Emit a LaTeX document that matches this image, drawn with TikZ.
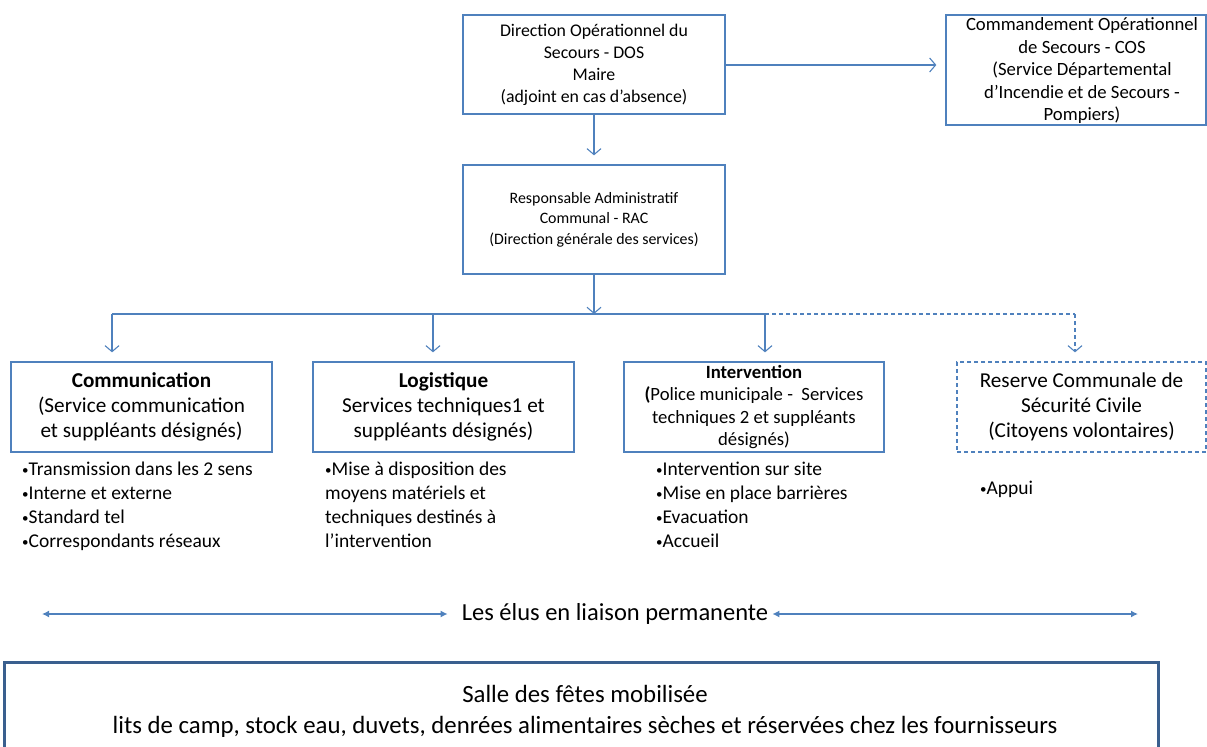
\documentclass[tikz,border=0pt]{standalone}
\usepackage{fontspec}
\setmainfont{Carlito}
\usetikzlibrary{arrows.meta}
\definecolor{bl}{HTML}{4F81BD}
\definecolor{dbl}{HTML}{3A5F8E}
\newcommand\bul{\raisebox{1.5bp}{\fontsize{13bp}{13bp}\selectfont •}}
\begin{document}
\begin{tikzpicture}[x=1bp,y=-1bp,
  box/.style={draw=bl, line width=1.3bp, align=center, inner sep=0pt, text=black},
  dbox/.style={box, dash pattern=on 4bp off 3bp},
  conn/.style={draw=bl, line width=1.2bp, -{Straight Barb[length=6bp,width=14bp,line width=1.1bp]}},
  dconn/.style={conn, dash pattern=on 4bp off 3bp},
  busline/.style={draw=bl, line width=1.2bp},
  both/.style={draw=bl, line width=1.6bp, {Latex[length=7bp,width=7bp]}-{Latex[length=7bp,width=7bp]}},
  bullets/.style={align=left, inner sep=0pt, anchor=north west, font=\fontsize{19.5bp}{24bp}\selectfont},
  fA/.style={font=\fontsize{17.8bp}{22bp}\selectfont},
  fB/.style={font=\fontsize{18.7bp}{22.5bp}\selectfont},
  fC/.style={font=\fontsize{15.9bp}{20.5bp}\selectfont},
  fD/.style={font=\fontsize{21.2bp}{25bp}\selectfont},
  fE/.style={font=\fontsize{18.7bp}{22.5bp}\selectfont},
  fF/.style={font=\fontsize{24.5bp}{31bp}\selectfont},
  fG/.style={font=\fontsize{24.8bp}{31bp}\selectfont}]
\useasboundingbox (0,0) rectangle (1207,747);

\node[box, fA, minimum width=262bp, minimum height=99bp] (dos) at (594,64.5)
  {Direction Opérationnel du\\Secours - DOS\\Maire\\(adjoint en cas d’absence)};
\node[box, minimum width=260bp, minimum height=110bp] (cos) at (1076,70) {};
\node[fB, align=center, inner sep=0pt] (costxt) at (1082,71)
  {Commandement Opérationnel\\de Secours - COS\\(Service Départemental\\d’Incendie et de Secours -\\Pompiers)};
\node[box, fC, minimum width=262bp, minimum height=109bp] (rac) at (594,219.5)
  {Responsable Administratif\\Communal - RAC\\(Direction générale des services)};

\node[box, fD, minimum width=261bp, minimum height=90bp] (comm) at (141.5,407)
  {\textbf{Communication}\\(Service communication\\et suppléants désignés)};
\node[box, fD, minimum width=261bp, minimum height=90bp] (logi) at (443.5,407)
  {\textbf{Logistique}\\Services techniques1 et\\suppléants désignés)};
\node[box, fE, minimum width=260bp, minimum height=90bp] (inter) at (754,407)
  {\textbf{Intervention}\\\textbf{(}Police municipale -\ \ Services\\techniques 2 et suppléants\\désignés)};
\node[dbox, fD, minimum width=249bp, minimum height=90bp] (res) at (1081.5,407)
  {Reserve Communale de\\Sécurité Civile\\(Citoyens volontaires)};

\coordinate (bus) at (594,314);
\coordinate (b1) at (112,314);
\coordinate (b2) at (433,314);
\coordinate (b3) at (765,314);
\coordinate (b4) at (1075,314);

\draw[conn, shorten >=9bp] (dos.south) -- (rac.north);
\draw[conn, shorten >=9bp] (dos.east |- 0,65) -- (cos.west |- 0,65);
\draw[conn] (rac.south) -- (bus);
\draw[busline] (b1) -- (b3);
\draw[busline, dash pattern=on 4bp off 3bp] (b3) -- (b4);
\draw[conn, shorten >=9bp] (b1) -- (b1 |- comm.north);
\draw[conn, shorten >=9bp] (b2) -- (b2 |- logi.north);
\draw[conn, shorten >=9bp] (b3) -- (b3 |- inter.north);
\draw[dconn, shorten >=9bp] (b4) -- (b4 |- res.north);

\node[bullets] (l1) at (22,462) {\bul Transmission dans les 2 sens\\\bul Interne et externe\\\bul Standard tel\\\bul Correspondants réseaux};
\node[bullets] (l2) at (325,462) {\bul Mise à disposition des\\moyens matériels et\\techniques destinés à\\l’intervention};
\node[bullets] (l3) at (656,462) {\bul Intervention sur site\\\bul Mise en place barrières\\\bul Evacuation\\\bul Accueil};
\node[bullets] (l4) at (980,481) {\bul Appui};

\node[fF, inner sep=0pt] (elus) at (615,614) {Les élus en liaison permanente};
\coordinate (eL) at (42,614);
\coordinate (eR) at (1138,614);
\draw[both, shorten >=14bp] (eL) -- (elus.west);
\draw[both, shorten <=4bp] (elus.east) -- (eR);

\node[draw=dbl, line width=3bp, minimum width=1153bp, minimum height=100bp, inner sep=0pt] (salle) at (581.5,712) {};
\node[fG, align=center, inner sep=0pt] (salletxt) at (585,711)
  {Salle des fêtes mobilisée\\lits de camp, stock eau, duvets, denrées alimentaires sèches et réservées chez les fournisseurs};
\end{tikzpicture}
\end{document}
